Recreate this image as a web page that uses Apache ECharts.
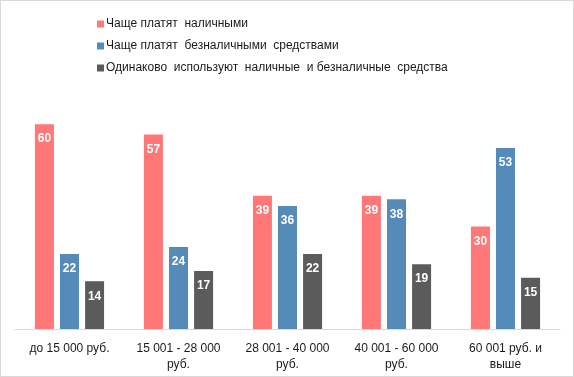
<!DOCTYPE html>
<html>
<head>
<meta charset="utf-8">
<script src="https://cdn.jsdelivr.net/npm/echarts@6/dist/echarts.min.js"></script>
<style>
  html, body { margin: 0; padding: 0; background: #fff; }
  #chart { width: 574px; height: 377px; box-sizing: border-box; border: 1px solid #d9d9d9; }
</style>
</head>
<body>
<div id="chart"></div>
<script>
// категории дохода
var categories = ['до 15 000 руб.', '15 001 - 28 000\nруб.', '28 001 - 40 000\nруб.', '40 001 - 60 000\nруб.', '60 001 руб. и\nвыше'];
var seriesNames = ['Чаще платят  наличными', 'Чаще платят  безналичными  средствами', 'Одинаково  используют  наличные  и безналичные  средства'];
var cashVals = [60, 57, 39, 39, 30];
var cardVals = [22, 24, 36, 38, 53];
var bothVals = [14, 17, 22, 19, 15];
var colors = ['#ff7777', '#548bb8', '#5b5b5b'];

var chart = echarts.init(document.getElementById('chart'));

function barSeries(name, data, color) {
    return {
        name: name,
        type: 'bar',
        data: data,
        barWidth: 19,
        barGap: '32%',
        itemStyle: { color: color },
        label: {
            show: true,
            position: 'insideTop',
            distance: 9,
            color: '#fff',
            fontWeight: 'bold',
            fontSize: 12,
            fontFamily: 'Liberation Sans'
        }
    };
}

var option = {
    animation: false,
    textStyle: { fontFamily: 'Liberation Sans' },
    legend: {
        orient: 'vertical',
        left: 91,
        top: 12,
        itemWidth: 7,
        itemHeight: 7,
        itemGap: 10,
        icon: 'rect',
        textStyle: { fontSize: 12, color: '#1a1a1a', padding: [0, 0, 0, -3] },
        data: seriesNames
    },
    grid: { left: 14, right: 13, top: 89, bottom: 47 },
    xAxis: {
        type: 'category',
        data: categories,
        axisLine: { lineStyle: { color: '#d9d9d9' } },
        axisTick: { show: false },
        axisLabel: { fontSize: 12, color: '#1a1a1a', margin: 12, lineHeight: 16, interval: 0 }
    },
    yAxis: {
        type: 'value',
        min: 0,
        max: 70,
        show: false,
        splitLine: { show: false }
    },
    series: [
        barSeries(seriesNames[0], cashVals, colors[0]),
        barSeries(seriesNames[1], cardVals, colors[1]),
        barSeries(seriesNames[2], bothVals, colors[2])
    ]
};

chart.setOption(option);
</script>
</body>
</html>
